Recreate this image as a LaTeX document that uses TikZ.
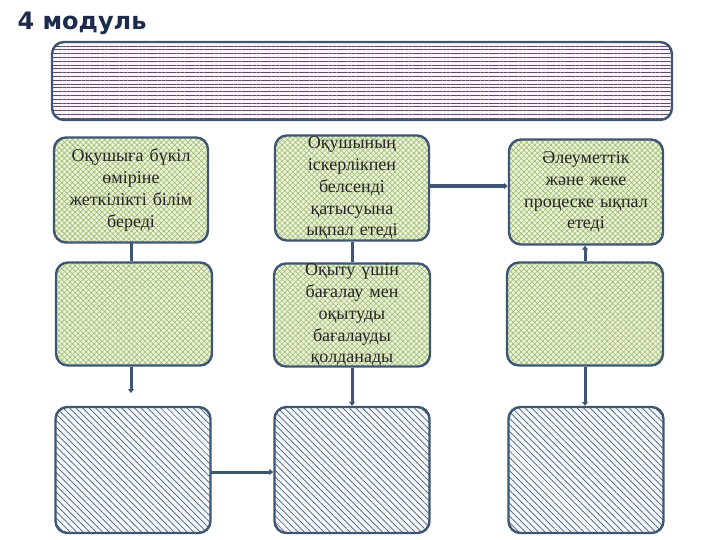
\documentclass[tikz,border=0pt]{standalone}
\usepackage{fontspec}
\setmainfont{Liberation Serif}
\newfontfamily\headfont{DejaVu Sans}
\usepackage{tikz}
\usetikzlibrary{arrows.meta,patterns.meta}
\definecolor{slate}{HTML}{3E5573}
\definecolor{navy}{HTML}{1C2B4C}
\definecolor{grnbg}{HTML}{EEF4DC}
\definecolor{grnln}{HTML}{9FBD70}
\definecolor{pnkbg}{HTML}{FAF4FA}
\definecolor{pnkln}{HTML}{5C4C68}
\definecolor{blubg}{HTML}{F3F7FA}
\definecolor{bluln}{HTML}{4C5C72}
\definecolor{txt}{HTML}{262626}

\begin{document}
\begin{tikzpicture}[
  x=1pt,y=-1pt,
  font=\fontsize{18}{21.8}\selectfont,
  box/.style={draw=slate,line width=2.4pt,rounded corners=12pt,align=center,inner xsep=1pt,inner ysep=0pt,text=txt},
  grn/.style={box,minimum width=154pt,minimum height=105pt,text width=152pt,
    preaction={fill=grnbg},
    preaction={pattern={Lines[angle=45,distance=3.8pt,line width=0.65pt]},pattern color=grnln},
    pattern={Lines[angle=-45,distance=3.8pt,line width=0.65pt]},pattern color=grnln},
  hat/.style={box,minimum width=155pt,minimum height=126pt,
    preaction={fill=blubg},
    pattern={Lines[angle=-45,distance=4.6pt,line width=0.7pt]},pattern color=bluln},
  ban/.style={box,minimum width=620pt,minimum height=78pt,
    preaction={fill=pnkbg},
    pattern={Lines[angle=0,distance=3.8pt,line width=0.9pt]},pattern color=pnkln},
  ln/.style={draw=slate,line width=3pt},
  ar/.style={ln,-{Triangle[length=4pt,width=6pt]}}
]
\useasboundingbox (0,0) rectangle (720,540);

% ---------------- heading
\node[font=\headfont\bfseries\fontsize{24}{27}\selectfont,text=navy,anchor=west] (hd) at (14,23) {4 модуль};
\node[ban] (bn) at (362,81) {};

% ---------------- top row
\node[grn] (t1) at (131,190) {Оқушыға бүкіл\\өміріне\\жеткілікті білім\\береді};
\node[grn] (t2) at (352,188) {Оқушының\\іскерлікпен\\белсенді\\қатысуына\\ықпал етеді};
\node[grn] (t3) at (586,192) {Әлеуметтік\\және жеке\\процеске ықпал\\етеді};

% ---------------- middle row
\node[grn,minimum width=156pt,minimum height=103pt] (m1) at (134,314) {};
\node[grn,minimum width=156pt,minimum height=103pt] (m2) at (352,315) {Оқыту үшін\\бағалау мен\\оқытуды\\бағалауды\\қолданады};
\node[grn,minimum width=156pt,minimum height=103pt] (m3) at (585,314) {};

% ---------------- bottom row
\node[hat] (b1) at (133,470) {};
\node[hat] (b2) at (352,470) {};
\node[hat] (b3) at (586,470) {};

\coordinate (m1e) at (131,393);

% ---------------- connectors
\draw[ln] (t1.south) -- (t1.south |- m1.north);
\draw[ar] (t1.south |- m1.south) -- (m1e);
\draw[ln] (t2.south) -- (t2.south |- m2.north);
\draw[ar] (m2.south) -- (b2.north);
\draw[ar,line width=3.6pt] (t2.east |- 0,186) -- (t3.west |- 0,186);
\draw[ar] (m3.north) -- (m3.north |- t3.south);
\draw[ar] (m3.south) -- (m3.south |- b3.north);
\draw[ar] (b1.east |- 0,472) -- (b2.west |- 0,472);
\end{tikzpicture}
\end{document}
